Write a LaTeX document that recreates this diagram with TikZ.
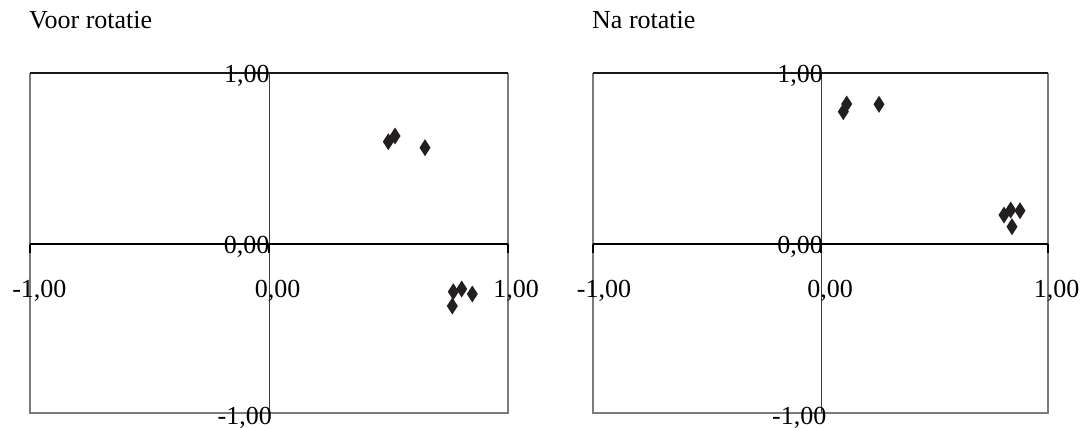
\documentclass[tikz,border=0pt]{standalone}
\usepackage{fontspec}
\setmainfont{Liberation Serif}
\usetikzlibrary{shapes.geometric}
\definecolor{bordergray}{HTML}{7A7C7C}
\definecolor{axisgray}{HTML}{3C3C3C}
\definecolor{ptcol}{HTML}{231F20}
\tikzset{
  lbl/.style={inner sep=0pt, font=\fontsize{26pt}{30pt}\selectfont, text=black},
  pt/.style={diamond, fill=ptcol, draw=none, inner sep=0pt, outer sep=0pt, minimum width=11pt, minimum height=17pt},
  frameside/.style={draw=bordergray, line width=2.3pt},
  frametop/.style={draw=black!90, line width=2.3pt},
  haxis/.style={draw=black, line width=1.5pt},
  vaxis/.style={draw=axisgray, line width=1.6pt},
  tickmark/.style={draw=black, line width=2.3pt}
}
\begin{document}
\begin{tikzpicture}[x=1pt,y=-1pt]
\useasboundingbox (0,0) rectangle (1082,428);
% ---------- left chart ----------
\coordinate (LTL) at (30,72.7);
\coordinate (LTR) at (507.7,72.7);
\coordinate (LBL) at (30,413.3);
\coordinate (LBR) at (507.7,413.3);
\coordinate (LAL) at (30,244);
\coordinate (LAR) at (507.7,244);
\coordinate (LAT) at (269.3,72.7);
\coordinate (LAB) at (269.3,413.3);
\coordinate (LAC) at (269.3,244);
\draw[frameside] (LTL) -- (LBL) -- (LBR) -- (LTR);
\draw[frametop] (LTL) -- (LTR);
\draw[vaxis] (LAT) -- (LAB);
\draw[haxis] (LAL) -- (LAR);
\draw[tickmark] (LAL) -- ++(0,9);
\draw[tickmark] (LAC) -- ++(0,9);
\draw[tickmark] (LAR) -- ++(0,9);
\node[lbl, anchor=base west] (ltitle) at (29,29) {Voor rotatie};
\node[lbl, anchor=base east] (ly1) at (269.8,82.5) {1,00};
\node[lbl, anchor=base east] (ly0) at (269.5,253) {0,00};
\node[lbl, anchor=base east] (lym) at (272,424) {-1,00};
\node[lbl, anchor=base] (lxm) at (39.4,297) {-1,00};
\node[lbl, anchor=base] (lx0) at (277.6,297) {0,00};
\node[lbl, anchor=base] (lx1) at (516,297) {1,00};
\node[pt] (lp1) at (388.3,141.7) {};
\node[pt] (lp2) at (395,136) {};
\node[pt] (lp3) at (425,147.7) {};
\node[pt] (lp4) at (453.3,291.7) {};
\node[pt] (lp5) at (461.7,289) {};
\node[pt] (lp6) at (472.3,294) {};
\node[pt] (lp7) at (452.3,306) {};
% ---------- right chart ----------
\coordinate (RTL) at (592.8,72.7);
\coordinate (RTR) at (1048,72.7);
\coordinate (RBL) at (592.8,413.3);
\coordinate (RBR) at (1048,413.3);
\coordinate (RAL) at (592.8,244);
\coordinate (RAR) at (1048,244);
\coordinate (RAT) at (821.3,72.7);
\coordinate (RAB) at (821.3,413.3);
\coordinate (RAC) at (821.3,244);
\draw[frameside] (RTL) -- (RBL) -- (RBR) -- (RTR);
\draw[frametop] (RTL) -- (RTR);
\draw[vaxis] (RAT) -- (RAB);
\draw[haxis] (RAL) -- (RAR);
\draw[tickmark] (RAL) -- ++(0,9);
\draw[tickmark] (RAC) -- ++(0,9);
\draw[tickmark] (RAR) -- ++(0,9);
\node[lbl, anchor=base west] (rtitle) at (592,29) {Na rotatie};
\node[lbl, anchor=base east] (ry1) at (823,82.5) {1,00};
\node[lbl, anchor=base east] (ry0) at (823,253) {0,00};
\node[lbl, anchor=base east] (rym) at (826.5,424) {-1,00};
\node[lbl, anchor=base] (rxm) at (604,297) {-1,00};
\node[lbl, anchor=base] (rx0) at (830,297) {0,00};
\node[lbl, anchor=base] (rx1) at (1056.5,297) {1,00};
\node[pt] (rp1) at (843.3,111.7) {};
\node[pt] (rp2) at (846.7,104) {};
\node[pt] (rp3) at (879,104.3) {};
\node[pt] (rp4) at (1004,215) {};
\node[pt] (rp5) at (1010.7,210) {};
\node[pt] (rp6) at (1020,210.7) {};
\node[pt] (rp7) at (1012,226.7) {};
\end{tikzpicture}
\end{document}
